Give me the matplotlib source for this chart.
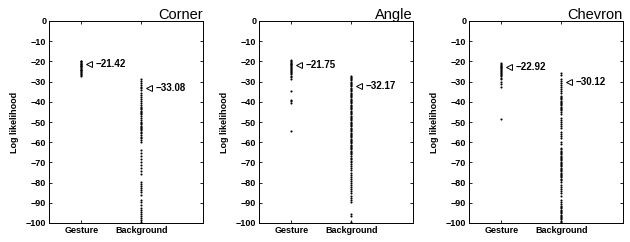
import matplotlib
matplotlib.use("Agg")
import matplotlib.pyplot as plt

titles = ["Corner", "Angle", "Chevron"]
categories = ["Gesture", "Background"]

corner_gesture = [-19.6, -20.0, -20.4, -20.8, -21.1, -21.4, -21.8, -22.1, -22.5, -22.9,
                  -23.3, -23.7, -24.1, -24.5, -24.9, -25.3, -25.8, -26.3, -26.8, -27.4]
corner_background = [-28.5, -29.5, -30.5, -31.5, -32.5, -33.3, -34.3, -35.5, -36.5, -37.5,
                     -38.5, -39.5, -40.5, -41.5, -42.5, -43.2, -43.8, -44.4, -45.0, -45.6,
                     -46.2, -47.0, -48.0, -49.0, -50.0, -50.6, -51.2, -51.8, -52.4, -53.0,
                     -53.6, -54.2, -54.8, -55.5, -56.3, -57.2, -58.0, -59.0, -60.0, -64.0,
                     -65.5, -67.0, -68.5, -70.0, -71.5, -73.0, -74.5, -75.5, -79.5, -80.5,
                     -81.5, -82.5, -83.5, -84.5, -86.0, -88.5, -89.5, -91.0, -92.5, -93.5,
                     -94.5, -95.5, -96.5, -97.5, -98.5, -99.3, -100.0]

angle_gesture = [-19.5, -19.9, -20.3, -20.7, -21.1, -21.5, -21.9, -22.3, -22.7, -23.1,
                 -23.6, -24.1, -24.6, -25.1, -25.7, -26.3, -27.0, -27.8, -28.7, -34.5,
                 -39.0, -39.7, -40.4, -54.5]
angle_background = [-27.0, -27.6, -28.2, -28.8, -29.4, -30.0, -30.6, -31.2, -31.8, -32.4,
                    -33.0, -33.6, -34.2, -34.8, -35.4, -36.0, -36.6, -37.2, -37.8, -38.4,
                    -39.0, -39.6, -40.2, -40.8, -41.4, -42.0, -42.6, -43.2, -43.8, -44.4,
                    -45.0, -45.6, -46.2, -46.8, -47.4, -48.0, -48.6, -49.2, -49.8, -50.4,
                    -51.0, -51.6, -52.2, -52.8, -53.4, -54.0, -54.6, -55.2, -55.8, -56.4,
                    -57.0, -57.6, -58.2, -58.8, -59.4, -60.0, -60.6, -61.2, -61.8, -62.4,
                    -63.0, -63.6, -64.2, -64.8, -65.4, -66.0, -66.8, -67.6, -68.4, -69.2,
                    -70.0, -71.0, -72.0, -73.0, -74.0, -75.0, -76.0, -77.0, -78.0, -79.0,
                    -80.0, -81.0, -82.0, -83.0, -84.0, -85.0, -86.5, -87.5, -88.5, -89.5,
                    -95.5, -96.3, -99.5]

chevron_gesture = [-21.0, -21.4, -21.8, -22.2, -22.6, -23.0, -23.4, -23.8, -24.2, -24.6,
                   -25.0, -25.5, -26.0, -26.6, -27.3, -28.0, -28.8, -30.0, -31.2, -32.5,
                   -48.5]
chevron_background = [-25.5, -26.5, -28.5, -29.5, -30.5, -31.5, -32.5, -33.5, -34.5, -35.5,
                      -37.0, -37.6, -38.2, -38.8, -39.4, -40.0, -40.6, -41.2, -41.8, -42.4,
                      -43.0, -43.6, -44.2, -45.0, -45.8, -48.0, -49.0, -50.0, -51.0, -52.0,
                      -53.0, -55.0, -56.0, -57.0, -58.0, -60.0, -61.0, -63.0, -63.6, -64.2,
                      -64.8, -65.4, -66.0, -66.6, -67.2, -67.8, -68.4, -69.0, -69.6, -70.2,
                      -70.8, -71.4, -72.0, -72.6, -73.2, -73.8, -74.4, -75.0, -75.6, -76.2,
                      -76.8, -77.4, -78.0, -78.8, -79.6, -81.0, -82.0, -83.0, -84.0, -85.0,
                      -86.5, -88.5, -89.5, -90.5, -91.5, -92.2, -92.8, -93.4, -94.0, -94.6,
                      -95.2, -95.8, -96.4, -97.0, -97.6, -98.2, -98.8, -99.4, -100.0]

gesture_series = [corner_gesture, angle_gesture, chevron_gesture]
background_series = [corner_background, angle_background, chevron_background]
gesture_marks = [-21.42, -21.75, -22.92]
background_marks = [-33.08, -32.17, -30.12]

yticks = list(range(-100, 1, 10))

plt.rcParams['font.family'] = ['Liberation Sans', 'DejaVu Sans']

fig = plt.figure(figsize=(6.3, 2.42), dpi=100)
lefts = [49 / 630, 259 / 630, 469 / 630]
w = 154 / 630
b = 1 - 223 / 242
h = (223 - 21) / 242

for i in range(3):
    ax = fig.add_axes([lefts[i], b, w, h])
    ax.plot([1] * len(gesture_series[i]), gesture_series[i], 'k.', markersize=3.0, markeredgewidth=0)
    ax.plot([2] * len(background_series[i]), background_series[i], 'k.', markersize=3.0, markeredgewidth=0)
    for xpos, val in ((1, gesture_marks[i]), (2, background_marks[i])):
        ax.plot([xpos + 0.13], [val], marker='<', markersize=4.5, markerfacecolor='white',
                markeredgecolor='black', markeredgewidth=0.7, linestyle='none')
        ax.text(xpos + 0.24, val, "\u2212%.2f" % abs(val), fontsize=7, fontweight='bold',
                va='center', ha='left')
    ax.set_xlim(0.46, 3.03)
    ax.set_ylim(-100, 0)
    ax.set_xticks([1, 2])
    ax.set_xticklabels(categories, fontsize=6.5, fontweight='bold')
    ax.set_yticks(yticks)
    ax.set_yticklabels([("\u2212%d" % abs(t)) if t < 0 else "0" for t in yticks],
                       fontsize=6.5, fontweight='bold')
    ax.tick_params(direction='in', top=True, right=True, length=2.5, width=0.6, pad=2)
    for sp in ax.spines.values():
        sp.set_linewidth(0.7)
    ax.set_ylabel("Log likelihood", fontsize=6.5, fontweight='bold', labelpad=5)
    ax.set_title(titles[i], loc='right', fontsize=10.5, pad=1.5)

fig.savefig("out.png", dpi=100)
